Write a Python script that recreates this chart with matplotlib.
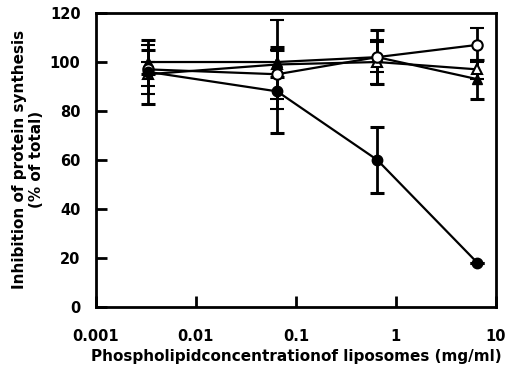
import numpy as np
import matplotlib
matplotlib.use('Agg')
import matplotlib.pyplot as plt

# phospholipid concentration (mg/ml)
conc = [0.0033, 0.065, 0.65, 6.5]

# inhibition of protein synthesis (% of total), with error bars
filled_circle = [96, 88, 60, 18]
filled_circle_err = [13, 17, 13.5, 0]
open_circle = [97, 95, 102, 107]
open_circle_err = [10, 10, 6, 7]
open_triangle = [95, 99, 100, 97]
open_triangle_err = [5, 18, 9, 4]
filled_triangle = [100, 100, 102, 93]
filled_triangle_err = [5, 6, 11, 8]

xticks = [0.001, 0.01, 0.1, 1, 10]
xticklabels = ['0.001', '0.01', '0.1', '1', '10']
yticks = [0, 20, 40, 60, 80, 100, 120]

plt.rcParams['font.family'] = ['DejaVu Sans']
plt.rcParams['font.weight'] = 'bold'

fig = plt.figure(figsize=(5.15, 3.74), dpi=100)
ax = fig.add_axes([0.186, 0.18, 0.777, 0.785])

kw = dict(color='black', lw=1.6, capsize=5, capthick=2.2, elinewidth=2, ms=7.5)
ax.errorbar(conc, open_triangle, yerr=open_triangle_err, marker='^', mfc='white', mec='black', mew=1.5, **kw)
ax.errorbar(conc, filled_triangle, yerr=filled_triangle_err, marker='^', mfc='black', mec='black', **kw)
ax.errorbar(conc, open_circle, yerr=open_circle_err, marker='o', mfc='white', mec='black', mew=1.5, **kw)
ax.errorbar(conc, filled_circle, yerr=filled_circle_err, marker='o', mfc='black', mec='black', **kw)

ax.set_xscale('log')
ax.set_xlim(0.001, 10)
ax.set_ylim(0, 119)
ax.set_xticks(xticks)
ax.set_xticklabels(xticklabels)
ax.minorticks_off()
ax.set_yticks(yticks)
for s in ax.spines.values():
    s.set_linewidth(2)
ax.tick_params(direction='in', length=8, width=2, labelsize=10.5)
ax.tick_params(axis='y', pad=11)
ax.tick_params(axis='x', pad=16)

ax.set_xlabel('Phospholipidconcentrationof liposomes (mg/ml)', fontsize=11, fontweight='bold', labelpad=4)
ax.set_ylabel('Inhibition of protein synthesis\n(% of total)', fontsize=11, fontweight='bold', labelpad=4)

plt.savefig('out.png', dpi=100)
